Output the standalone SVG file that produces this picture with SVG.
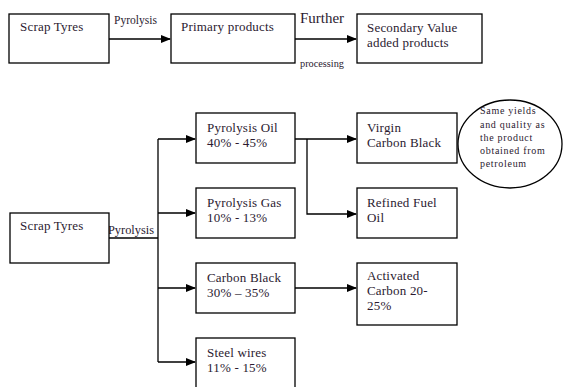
<svg xmlns="http://www.w3.org/2000/svg" width="564" height="387" viewBox="0 0 564 387">
<style>
.box{fill:#fff;stroke:#000;stroke-width:1.3}
.t{font-family:"Liberation Serif","Times New Roman",serif;font-size:13px;fill:#2b1a30;letter-spacing:0.2px}
.s{font-family:"Liberation Serif","Times New Roman",serif;font-size:10px;fill:#2b1a30}
.e{font-family:"Liberation Serif","Times New Roman",serif;font-size:10px;fill:#2b1a30;letter-spacing:0.7px}
.ln{fill:none;stroke:#000;stroke-width:1.3}
</style>
<defs>
<marker id="ah" markerWidth="10" markerHeight="8" refX="9" refY="4" orient="auto" markerUnits="userSpaceOnUse">
<path d="M0,0 L10,4 L0,8 Z" fill="#000"/>
</marker>
</defs>
<rect width="564" height="387" fill="#fff"/>
<g id="connectors">
<line class="ln" x1="109" y1="39" x2="170" y2="39" marker-end="url(#ah)"/>
<line class="ln" x1="295" y1="39" x2="356" y2="39" marker-end="url(#ah)"/>
<polyline class="ln" points="109,238 158,238"/>
<line class="ln" x1="158" y1="139" x2="158" y2="362"/>
<line class="ln" x1="158" y1="139" x2="195" y2="139" marker-end="url(#ah)"/>
<line class="ln" x1="158" y1="213" x2="195" y2="213" marker-end="url(#ah)"/>
<line class="ln" x1="158" y1="288" x2="195" y2="288" marker-end="url(#ah)"/>
<line class="ln" x1="158" y1="362" x2="195" y2="362" marker-end="url(#ah)"/>
<line class="ln" x1="295" y1="139" x2="356" y2="139" marker-end="url(#ah)"/>
<polyline class="ln" points="307,139 307,214 356,214" marker-end="url(#ah)"/>
<line class="ln" x1="295" y1="288" x2="356" y2="288" marker-end="url(#ah)"/>
<text class="s" x="114" y="24" style="font-size:13px" textLength="43" lengthAdjust="spacingAndGlyphs">Pyrolysis</text>
<text class="s" x="300" y="23" style="font-size:15px" textLength="44" lengthAdjust="spacingAndGlyphs">Further</text>
<text class="s" x="300" y="67" textLength="44" lengthAdjust="spacingAndGlyphs">processing</text>
<text class="s" x="108" y="234" style="font-size:13px" textLength="46" lengthAdjust="spacingAndGlyphs">Pyrolysis</text>
</g>
<g id="scrap1"><rect class="box" x="9" y="14" width="100" height="49"/><text class="t" x="20" y="31">Scrap Tyres</text></g>
<g id="primary"><rect class="box" x="171" y="14" width="124" height="49"/><text class="t" x="181" y="31">Primary products</text></g>
<g id="secondary"><rect class="box" x="357" y="14" width="125" height="49"/><text class="t" x="367" y="32">Secondary Value</text><text class="t" x="367" y="47">added products</text></g>
<g id="scrap2"><rect class="box" x="10" y="213" width="99" height="50"/><text class="t" x="20" y="230">Scrap Tyres</text></g>
<g id="oil"><rect class="box" x="196" y="113" width="99" height="50"/><text class="t" x="207" y="132">Pyrolysis Oil</text><text class="t" x="207" y="147">40% - 45%</text></g>
<g id="gas"><rect class="box" x="196" y="188" width="99" height="50"/><text class="t" x="207" y="207">Pyrolysis Gas</text><text class="t" x="207" y="222">10% - 13%</text></g>
<g id="carbon"><rect class="box" x="196" y="263" width="99" height="50"/><text class="t" x="207" y="282">Carbon Black</text><text class="t" x="207" y="297">30% – 35%</text></g>
<g id="steel"><rect class="box" x="196" y="338" width="99" height="50"/><text class="t" x="207" y="357">Steel wires</text><text class="t" x="207" y="372">11% - 15%</text></g>
<g id="virgin"><rect class="box" x="357" y="113" width="100" height="50"/><text class="t" x="367" y="132">Virgin</text><text class="t" x="367" y="147">Carbon Black</text></g>
<g id="refined"><rect class="box" x="357" y="188" width="100" height="50"/><text class="t" x="367" y="207">Refined Fuel</text><text class="t" x="367" y="222">Oil</text></g>
<g id="activated"><rect class="box" x="357" y="263" width="100" height="62"/><text class="t" x="367" y="280">Activated</text><text class="t" x="367" y="295">Carbon 20-</text><text class="t" x="367" y="310">25%</text></g>
<g id="note"><ellipse class="box" cx="510" cy="144" rx="52" ry="44"/><text class="e" x="480" y="114">Same yields</text><text class="e" x="480" y="128">and quality as</text><text class="e" x="480" y="141">the product</text><text class="e" x="480" y="154">obtained from</text><text class="e" x="480" y="167">petroleum</text></g>
</svg>
